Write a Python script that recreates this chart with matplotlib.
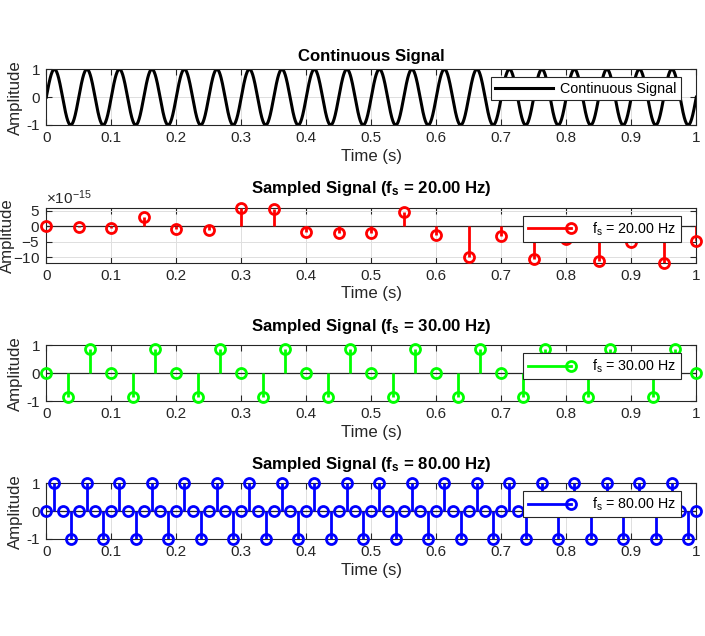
import numpy as np
import matplotlib
matplotlib.use('Agg')
import matplotlib.pyplot as plt
from matplotlib.lines import Line2D
from matplotlib.legend_handler import HandlerBase
from matplotlib.ticker import FuncFormatter

plt.rcParams['font.family'] = ['Liberation Sans', 'DejaVu Sans']
plt.rcParams['mathtext.fontset'] = 'custom'
plt.rcParams['mathtext.rm'] = 'Liberation Sans'
plt.rcParams['mathtext.it'] = 'Liberation Sans:italic'
plt.rcParams['mathtext.bf'] = 'Liberation Sans:bold'
plt.rcParams['axes.unicode_minus'] = False

# ---------------- data ----------------
signal_freq_hz = 20.0      # continuous signal frequency (read: 20 cycles in 1 s)
signal_amplitude = 1.0
duration_s = 1.0

rate_20 = 20.0
values_20 = [0.0, -0.2e-15, -0.5e-15, 3.0e-15, -1.0e-15, -1.2e-15, 5.8e-15,
             5.4e-15, -1.8e-15, -2.2e-15, -2.3e-15, 4.6e-15, -2.8e-15,
             -9.9e-15, -3.3e-15, -10.4e-15, -4.0e-15, -11.2e-15, -5.0e-15,
             -11.7e-15, -4.8e-15]

rate_30 = 30.0
values_30 = [0.0, -0.866, 0.866, 0.0, -0.866, 0.866, 0.0, -0.866, 0.866,
             0.0, -0.866, 0.866, 0.0, -0.866, 0.866, 0.0, -0.866, 0.866,
             0.0, -0.866, 0.866, 0.0, -0.866, 0.866, 0.0, -0.866, 0.866,
             0.0, -0.866, 0.866, 0.0]

rate_80 = 80.0
values_80 = [0, 1, 0, -1, 0, 1, 0, -1, 0, 1, 0, -1, 0, 1, 0, -1, 0, 1, 0, -1,
             0, 1, 0, -1, 0, 1, 0, -1, 0, 1, 0, -1, 0, 1, 0, -1, 0, 1, 0, -1,
             0, 1, 0, -1, 0, 1, 0, -1, 0, 1, 0, -1, 0, 1, 0, -1, 0, 1, 0, -1,
             0, 1, 0, -1, 0, 1, 0, -1, 0, 1, 0, -1, 0, 1, 0, -1, 0, 1, 0, -1,
             0]

x_ticks = [0, 0.1, 0.2, 0.3, 0.4, 0.5, 0.6, 0.7, 0.8, 0.9, 1.0]

# ---------------- style ----------------
AX_COL = '#262626'
GRID_COL = '#dedede'
TICK_FS = 11
LABEL_FS = 12.1
TITLE_FS = 12.1
LEG_FS = 10.3


class StemLegendHandler(HandlerBase):
    def create_artists(self, legend, orig_handle, xdescent, ydescent, width,
                       height, fontsize, trans):
        y = height / 2.0 - ydescent
        x0 = -xdescent
        x1 = width - xdescent
        ln = Line2D([x0, x1], [y, y], color=orig_handle.get_color(),
                    linewidth=orig_handle.get_linewidth())
        mk = Line2D([x1], [y], linestyle='none', marker='o',
                    markersize=orig_handle.get_markersize(),
                    markerfacecolor='none',
                    markeredgecolor=orig_handle.get_color(),
                    markeredgewidth=orig_handle.get_markeredgewidth())
        ln.set_transform(trans)
        mk.set_transform(trans)
        return [ln, mk]


fig = plt.figure(figsize=(7.05, 6.36), dpi=100)
fig.patch.set_facecolor('white')

L = 46.3 / 705
W = 650 / 705
H = 636.0
positions = [
    [L, 1 - 125.0 / H, W, 55.7 / H],
    [L, 1 - 262.7 / H, W, 54.7 / H],
    [L, 1 - 401.0 / H, W, 55.7 / H],
    [L, 1 - 539.0 / H, W, 55.7 / H],
]
axes = [fig.add_axes(p) for p in positions]


def style_axes(ax, ylabel_x=-0.0363):
    ax.set_xlim(0, duration_s)
    ax.set_xticks(x_ticks)
    ax.xaxis.set_major_formatter(FuncFormatter(lambda v, p: f'{v:g}'))
    ax.grid(True, color=GRID_COL, linewidth=0.7)
    ax.set_axisbelow(True)
    for s in ax.spines.values():
        s.set_color(AX_COL)
        s.set_linewidth(0.8)
    ax.tick_params(direction='in', length=4, width=0.8, colors=AX_COL,
                   labelsize=TICK_FS, top=True, right=True, pad=4.5)
    ax.set_xlabel('Time (s)', fontsize=LABEL_FS, color=AX_COL, labelpad=2.5)
    ax.set_ylabel('Amplitude', fontsize=LABEL_FS, color=AX_COL)
    ax.yaxis.set_label_coords(ylabel_x, 0.5)


def legend_box(ax, handles, labels, handlelength, handletextpad, hmap=None):
    leg = ax.legend(handles=handles, labels=labels, loc='upper right',
                    bbox_to_anchor=(0.9757, 0.857), borderaxespad=0,
                    fontsize=LEG_FS, fancybox=False, framealpha=1,
                    edgecolor=AX_COL, borderpad=0.3,
                    handlelength=handlelength, handletextpad=handletextpad,
                    handler_map=hmap)
    leg.get_frame().set_linewidth(0.8)
    for t in leg.get_texts():
        t.set_color('black')
    return leg


# ---- subplot 1: continuous signal ----
ax = axes[0]
t_cont = np.linspace(0, duration_s, 2001)
x_cont = signal_amplitude * np.sin(2 * np.pi * signal_freq_hz * t_cont)
line, = ax.plot(t_cont, x_cont, color='black', linewidth=2.2)
ax.set_ylim(-1, 1)
ax.set_yticks([-1, 0, 1])
style_axes(ax)
ax.set_title('Continuous Signal', fontsize=TITLE_FS, fontweight='bold',
             pad=6, color='black')
legend_box(ax, [line], ['Continuous Signal'], 4.0, 0.5)


def stem_panel(ax, rate, values, color, ylim, yticks, ylabel_x=-0.0363):
    vals = np.asarray(values, dtype=float)
    t = np.arange(len(vals)) / rate
    ml, sl, bl = ax.stem(t, vals)
    sl.set_color(color)
    sl.set_linewidth(2.0)
    ml.set_marker('o')
    ml.set_markersize(7.2)
    ml.set_markerfacecolor('none')
    ml.set_markeredgecolor(color)
    ml.set_markeredgewidth(2.0)
    ml.set_clip_on(False)
    ml.set_zorder(4)
    sl.set_zorder(3)
    bl.set_color(AX_COL)
    bl.set_linewidth(0.9)
    bl.set_zorder(2)
    ax.set_ylim(*ylim)
    ax.set_yticks(yticks)
    style_axes(ax, ylabel_x)
    label = f'{rate:.2f}'
    ax.set_title(r'Sampled Signal (f$_\mathbf{s}$ = ' + label + ' Hz)',
                 fontsize=TITLE_FS, fontweight='bold', pad=10.5, color='black')
    proxy = Line2D([], [], color=color, linewidth=2.0, marker='o',
                   markersize=7.2, markerfacecolor='none',
                   markeredgecolor=color, markeredgewidth=2.0)
    legend_box(ax, [proxy], [r'f$_\mathrm{s}$ = ' + label + ' Hz'], 3.0, 1.5,
               hmap={proxy: StemLegendHandler()})


stem_panel(axes[1], rate_20, values_20, '#ff0000',
           (min(values_20), max(values_20)), [-10e-15, -5e-15, 0, 5e-15],
           ylabel_x=-0.0482)
axes[1].ticklabel_format(axis='y', style='sci', scilimits=(-15, -15),
                         useMathText=True)
axes[1].yaxis.get_offset_text().set_fontsize(TICK_FS)
axes[1].yaxis.get_offset_text().set_color(AX_COL)

stem_panel(axes[2], rate_30, values_30, '#00ff00', (-1, 1), [-1, 0, 1])
stem_panel(axes[3], rate_80, values_80, '#0000ff', (-1, 1), [-1, 0, 1])

fig.savefig('out.png', dpi=100, facecolor='white')
